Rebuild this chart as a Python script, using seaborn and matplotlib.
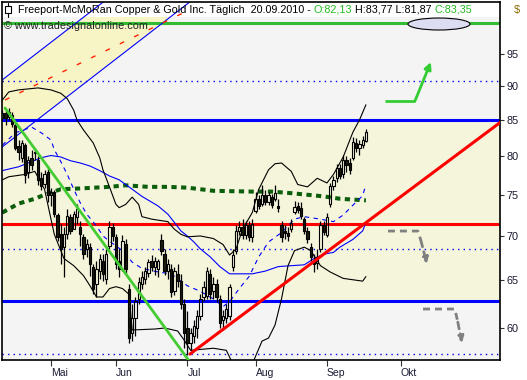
import matplotlib
matplotlib.use("Agg")
import numpy as np
import matplotlib.pyplot as plt
import matplotlib.ticker as mticker
from matplotlib.patches import Ellipse, Rectangle, Polygon
import seaborn as sns

# Tageskerzen 12.04.2010 - 20.09.2010 (Index 0 = erster Handelstag)
open_ = [85.28, 86.00, 85.43, 85.71, 84.30, 81.41, 79.79, 81.54, 77.96, 79.79,
         80.46, 79.53, 77.19, 76.42, 77.96, 75.03, 75.41, 72.46, 70.21, 68.71,
         70.21, 72.22, 70.80, 72.22, 71.03, 69.86, 68.48, 68.71, 66.47, 64.62,
         66.03, 67.13, 65.16, 68.82, 71.03, 69.86, 67.13, 66.25, 69.05, 64.09,
         59.47, 60.97, 63.03, 64.62, 65.16, 65.81, 67.13, 66.47, 66.25, 69.51,
         67.92, 66.03, 66.25, 63.87, 65.70, 64.94, 62.51, 59.96, 58.49, 59.17,
         59.96, 61.17, 63.24, 63.35, 65.70, 63.87, 64.62, 63.03, 60.77, 60.97,
         61.17, 66.47, 68.25, 70.56, 71.03, 70.10, 71.27, 69.86, 72.94, 74.41,
         73.80, 74.91, 74.04, 74.78, 74.41, 73.55, 71.27, 70.56, 70.33, 70.80,
         72.82, 73.55, 73.31, 71.98, 70.56, 68.71, 67.13, 66.91, 68.48, 71.27,
         70.10, 73.80, 76.17, 77.19, 78.48, 77.70, 79.53, 79.13, 79.79, 81.81,
         81.13, 81.54, 82.13]
close = [86.00, 85.28, 86.15, 84.43, 81.13, 80.59, 81.81, 77.57, 79.53, 78.87,
         80.59, 76.93, 76.17, 77.70, 74.91, 75.41, 72.58, 69.86, 68.48, 70.21,
         72.34, 70.56, 72.58, 73.19, 70.21, 67.92, 69.05, 66.80, 64.09, 66.25,
         67.36, 65.70, 67.92, 71.03, 69.98, 66.80, 66.25, 69.40, 66.25, 58.98,
         60.97, 62.82, 64.83, 65.37, 66.03, 67.02, 66.47, 67.13, 67.13, 68.25,
         66.03, 66.80, 63.77, 66.03, 64.94, 62.51, 59.47, 58.49, 59.47, 60.16,
         61.17, 63.03, 64.30, 66.03, 63.56, 64.62, 63.24, 60.46, 61.17, 61.99,
         64.30, 67.80, 70.56, 71.03, 70.10, 71.27, 69.86, 71.39, 74.41, 73.55,
         75.03, 74.04, 74.91, 73.67, 75.28, 73.31, 69.86, 70.33, 69.98, 71.51,
         73.43, 73.06, 72.34, 70.56, 69.63, 67.58, 66.80, 67.58, 71.27, 70.45,
         72.22, 76.17, 76.93, 78.48, 77.44, 79.53, 78.87, 78.22, 81.95, 81.13,
         81.68, 82.22, 83.35]
high = [86.44, 86.44, 86.73, 86.15, 84.72, 82.22, 82.22, 81.81, 80.06, 80.86,
        81.13, 80.06, 77.96, 78.22, 78.48, 75.91, 75.66, 72.70, 71.39, 71.03,
        73.19, 72.58, 72.94, 73.80, 71.74, 70.21, 69.63, 69.16, 66.80, 67.13,
        67.92, 67.92, 68.48, 71.74, 71.51, 70.21, 68.48, 70.10, 69.63, 64.62,
        62.51, 63.24, 65.37, 66.03, 66.47, 67.36, 67.80, 67.58, 67.36, 70.21,
        68.48, 67.36, 66.80, 66.47, 66.80, 65.70, 63.03, 61.69, 59.96, 60.77,
        61.79, 63.56, 64.94, 66.47, 66.25, 65.37, 65.16, 63.45, 61.79, 62.51,
        64.62, 68.48, 71.27, 71.74, 71.98, 71.74, 71.74, 71.98, 75.41, 75.03,
        76.29, 75.66, 75.41, 75.16, 76.29, 74.41, 71.74, 71.27, 71.03, 71.98,
        74.16, 74.04, 74.04, 72.22, 71.03, 69.16, 67.92, 68.48, 71.74, 71.74,
        72.70, 76.55, 77.44, 79.00, 79.00, 80.19, 80.06, 79.79, 82.63, 82.50,
        82.22, 82.77, 83.77]
low = [85.00, 84.30, 85.00, 84.02, 80.86, 79.53, 79.26, 76.55, 77.19, 78.22,
       79.53, 76.29, 75.66, 75.91, 74.04, 73.55, 72.22, 69.40, 66.80, 65.37,
       69.63, 70.21, 70.80, 71.39, 68.82, 67.36, 67.58, 65.48, 63.56, 63.24,
       65.16, 64.94, 64.62, 68.48, 69.40, 66.25, 65.37, 66.03, 65.70, 58.49,
       58.68, 59.17, 62.51, 64.09, 64.62, 65.37, 66.03, 65.59, 65.37, 67.80,
       65.59, 65.16, 63.24, 63.45, 64.30, 61.99, 58.01, 57.34, 57.82, 58.49,
       58.98, 60.77, 62.82, 63.03, 63.03, 63.03, 62.72, 59.96, 59.76, 60.46,
       60.77, 66.03, 67.92, 70.10, 69.63, 69.63, 69.40, 69.28, 72.70, 73.19,
       73.55, 73.67, 73.67, 73.31, 74.16, 72.82, 69.28, 69.63, 69.40, 70.45,
       72.58, 72.70, 71.98, 70.21, 69.16, 67.13, 65.92, 66.25, 68.14, 70.10,
       69.86, 73.43, 75.66, 76.67, 77.06, 77.19, 77.96, 77.70, 79.53, 80.59,
       80.19, 81.13, 81.87]

# Bollinger-Baender und Durchschnitte (Index -> Kurs)
bb_up_idx = [0, 2, 5, 11, 15, 18, 20, 22, 23, 25, 28, 30, 31, 33, 35, 36, 38, 40, 42, 43,
             46, 51, 53, 55, 57, 61, 65, 68, 70, 72, 74, 77, 79, 82, 84, 86, 89, 91, 94, 97,
             100, 102, 105, 108, 110, 112]
bb_up_val = [87.9, 89.1, 89.4, 89.7, 89.4, 88.9, 88.1, 86.4, 85.0, 83.6, 81.8, 79.8, 78.2, 76.0,
             73.8, 73.4, 73.8, 74.7, 73.8, 72.3, 72.0, 71.7, 70.8, 70.2, 69.9, 70.0, 69.7, 69.0,
             67.8, 68.5, 70.8, 72.8, 75.7, 78.2, 79.0, 79.1, 78.0, 76.3, 76.0, 77.1, 76.5, 77.6,
             79.9, 83.3, 85.0, 87.2]
bb_lo_idx = [0, 2, 7, 10, 13, 16, 19, 22, 25, 27, 29, 31, 33, 35, 37, 39, 40, 47, 50, 54,
             56, 58, 65, 69, 71, 77, 80, 82, 84, 86, 88, 90, 93, 95, 98, 101, 105, 111, 112]
bb_lo_val = [76.9, 77.3, 77.6, 78.0, 75.7, 70.2, 67.4, 66.6, 65.5, 64.4, 63.2, 63.2, 64.1, 64.3,
             64.1, 63.5, 59.8, 59.9, 60.0, 59.7, 58.8, 57.8, 58.0, 57.8, 56.5, 56.5, 58.7, 59.0,
             60.3, 63.0, 66.6, 68.3, 68.7, 68.3, 66.6, 65.9, 65.2, 64.9, 65.4]
bb_mid_idx = [0, 4, 9, 12, 15, 16, 18, 20, 22, 24, 26, 29, 31, 33, 37, 40, 43, 48, 52, 55,
              57, 61, 65, 68, 70, 73, 76, 79, 82, 86, 90, 93, 98, 102, 105, 108, 111, 112]
bb_mid_val = [81.5, 83.2, 84.0, 83.2, 82.2, 80.9, 79.3, 77.6, 75.7, 74.0, 72.6, 71.2, 70.0, 69.4,
              68.3, 67.0, 66.3, 65.9, 65.7, 64.9, 64.4, 63.8, 63.0, 62.2, 62.7, 64.1, 65.4, 67.6,
              69.3, 70.4, 72.0, 72.3, 72.0, 71.7, 72.5, 73.7, 74.9, 76.3]
ma50_idx = [0, 5, 12, 15, 18, 21, 24, 27, 30, 33, 36, 40, 43, 48, 51, 53, 55, 57, 59, 61,
            64, 67, 70, 73, 77, 81, 85, 89, 93, 96, 99, 102, 104, 108, 111, 112]
ma50_val = [78.1, 78.6, 79.8, 80.1, 79.9, 79.4, 79.1, 78.7, 78.1, 77.4, 76.9, 75.7, 74.8, 73.6,
            72.6, 71.6, 70.6, 70.0, 69.3, 68.5, 67.6, 66.5, 65.7, 65.7, 65.7, 66.0, 66.5, 66.6,
            66.7, 67.4, 67.9, 68.1, 68.7, 69.6, 70.6, 71.6]
ma200_idx = [0, 5, 10, 13, 18, 24, 33, 38, 45, 51, 57, 65, 77, 83, 89, 94, 99, 104, 112]
ma200_val = [72.8, 73.9, 74.5, 75.0, 75.7, 75.8, 76.0, 76.2, 76.0, 76.0, 75.9, 75.5, 75.4, 75.4,
             75.2, 75.0, 74.8, 74.5, 74.3]

# Horizontale Marken
zone_top, zone_bottom = 85.0, 62.77
red_level = 71.41
green_level = 100.0
dotted_levels = [90.74, 68.45, 57.44]

# Trendlinien / Kanal (Index, Kurs)
green_trend = ([0.83, 57.8], [86.73, 56.67])
red_trend = ([57.8, 153.3], [57.44, 84.64])
chan_upper = ([-1, 33.2], [90.54, 104.5])
chan_lower = ([-1, 59.3], [80.93, 104.27])
chan_mid = ([0.83, 55.65], [87.90, 101.69])

# Pfeile
green_arrow = ([117.9, 127.1], [87.75, 87.75])
green_tip = ((127.1, 87.75), (132.0, 93.67))
gray_arrow1 = ([118.8, 128.0, 128.9], [70.58, 70.58, 69.52])
gray_tip1 = ((128.9, 69.52), (130.8, 66.78))
gray_arrow2 = ([129.6, 139.4, 140.3], [61.94, 61.94, 60.60])
gray_tip2 = ((140.3, 60.60), (141.6, 58.51))

month_pos = [15, 35, 57, 78, 100, 122.8]
month_labels = ["Mai", "Jun", "Jul", "Aug", "Sep", "Okt"]
price_ticks = [60, 65, 70, 75, 80, 85, 90, 95]

sns.set_style("white")
plt.rcParams['font.family'] = ['Liberation Sans', 'DejaVu Sans']

fig = plt.figure(figsize=(5.27, 3.8), dpi=100)
ax = fig.add_axes([2 / 527, 20 / 380, 498 / 527, 358 / 380])
ax.set_yscale('log')
ax.set_xlim(-0.1, 153.3)
ax.set_ylim(56.87, 103.58)
ax.set_facecolor('#f4f4f4')

# Hintergrundzonen
ax.axhspan(zone_bottom, zone_top, color='#f5f5dc', lw=0, zorder=0)
ax.add_patch(Polygon([(chan_upper[0][0], chan_upper[1][0]), (chan_upper[0][1], chan_upper[1][1]),
                      (chan_lower[0][1], chan_lower[1][1]), (chan_lower[0][0], chan_lower[1][0])],
                     closed=True, facecolor='#f7f4c6', edgecolor='none', zorder=0.5))
ax.add_patch(Rectangle((0, 0.958), 1, 0.042, transform=ax.transAxes, facecolor='white',
                       edgecolor='none', zorder=0.8))

for lv in dotted_levels:
    ax.axhline(lv, color='#0000ee', lw=1.0, ls=(0, (1, 3)), zorder=1)
ax.axhline(zone_top, color='#0000ff', lw=2.2, zorder=1.2)
ax.axhline(zone_bottom, color='#0000ff', lw=2.2, zorder=1.2)
ax.axhline(red_level, color='#ff0000', lw=2.2, zorder=1.2)
ax.axhline(green_level, color='#33bb33', lw=2.2, zorder=1.2)

ax.plot(*chan_upper, color='#0000ff', lw=0.8, zorder=1.3)
ax.plot(*chan_lower, color='#0000ff', lw=0.8, zorder=1.3)
ax.plot(*chan_mid, color='#ff2200', lw=1.0, ls=(0, (3.5, 8)), zorder=1.3)

# Indikatoren
sns.lineplot(x=ma200_idx, y=ma200_val, ax=ax, color='#0b5e0b', lw=2.9,
             linestyle=(0, (1.3, 1.1)), zorder=2)
sns.lineplot(x=ma50_idx, y=ma50_val, ax=ax, color='#0000ff', lw=0.8, zorder=2)
sns.lineplot(x=bb_mid_idx, y=bb_mid_val, ax=ax, color='#0000ff', lw=0.8,
             linestyle=(0, (4, 4)), zorder=2)
sns.lineplot(x=bb_up_idx, y=bb_up_val, ax=ax, color='black', lw=0.8, zorder=2)
sns.lineplot(x=bb_lo_idx, y=bb_lo_val, ax=ax, color='black', lw=0.8, zorder=2)

# Kerzen
o = np.array(open_)
c = np.array(close)
h = np.array(high)
l = np.array(low)
x = np.arange(len(c))
top = np.maximum(o, c)
bot = np.minimum(o, c)
ax.vlines(x, top, h, color='black', lw=0.9, zorder=3)
ax.vlines(x, l, bot, color='black', lw=0.9, zorder=3)
up = c >= o
ax.bar(x[up], top[up] - bot[up], bottom=bot[up], width=0.72, facecolor='none',
       edgecolor='black', lw=0.8, zorder=3.1)
ax.bar(x[~up], top[~up] - bot[~up], bottom=bot[~up], width=0.72, facecolor='#1c1c0c',
       edgecolor='black', lw=0.8, zorder=3.1)

# Trendlinien
ax.plot(*green_trend, color='#44cc33', lw=2.0, zorder=4)
ax.plot(*red_trend, color='#ff0000', lw=2.2, zorder=4)

# Pfeile
ax.plot(*green_arrow, color='#33cc33', lw=2.0, zorder=4, solid_capstyle='butt')
ax.annotate('', xy=green_tip[1], xytext=green_tip[0],
            arrowprops=dict(arrowstyle='-|>', color='#33cc33', lw=2.0, mutation_scale=10,
                            shrinkA=0, shrinkB=0), zorder=4)
for seg, tip in [(gray_arrow1, gray_tip1), (gray_arrow2, gray_tip2)]:
    ax.plot(*seg, color='#808080', lw=2.0, ls=(0, (2.5, 1.8)), zorder=4)
    ax.annotate('', xy=tip[1], xytext=tip[0],
                arrowprops=dict(arrowstyle='-|>', color='#808080', lw=2.0, ls=(0, (2.5, 1.8)),
                                mutation_scale=9, shrinkA=0, shrinkB=0), zorder=4)

ax.add_patch(Ellipse((0.8775, 0.9385), 0.1245, 0.0335, transform=ax.transAxes,
                     facecolor='#dcdcf2', edgecolor='black', lw=0.8, zorder=5))

# Achsen
for s in ax.spines.values():
    s.set_color('black')
    s.set_linewidth(1.2)
ax.yaxis.tick_right()
ax.yaxis.set_major_locator(mticker.FixedLocator(price_ticks))
ax.yaxis.set_major_formatter(mticker.FixedFormatter([str(t) for t in price_ticks]))
ax.yaxis.set_minor_locator(mticker.NullLocator())
ax.tick_params(axis='y', which='both', right=True, left=False, direction='out', length=3,
               width=0.8, color='#333333', labelsize=7.8, labelcolor='#1a1a33', pad=1.5)
ax.set_xticks(month_pos)
ax.set_xticklabels(month_labels, ha='left')
ax.tick_params(axis='x', bottom=True, direction='out', length=4, width=0.8, color='#333333',
               labelsize=7.5, labelcolor='#1a1a33', pad=2)
ax.set_xlabel('')
ax.set_ylabel('')
ax.grid(False)

# Kopfzeile
ax.add_patch(Rectangle((0.006, 0.969), 0.012, 0.0196, transform=ax.transAxes,
                       facecolor='white', edgecolor='black', lw=0.8, zorder=6))
ax.plot([0.012, 0.012], [0.958, 0.997], transform=ax.transAxes, color='black', lw=0.8, zorder=5.9)
fs = 7.75
t1 = ax.text(0.032, 0.978, 'Freeport-McMoRan Copper & Gold Inc. Täglich  20.09.2010 - ',
             transform=ax.transAxes, ha='left', va='center', fontsize=fs, color='black', zorder=7)
t2 = ax.annotate('O:82,13', xy=(1, 0), xycoords=t1, ha='left', va='bottom', fontsize=fs,
                 color='#22bb22', zorder=7)
t3 = ax.annotate(' H:83,77 L:81,87 ', xy=(1, 0), xycoords=t2, ha='left', va='bottom',
                 fontsize=fs, color='black', zorder=7)
ax.annotate('C:83,35', xy=(1, 0), xycoords=t3, ha='left', va='bottom', fontsize=fs,
            color='#22bb22', zorder=7)
ax.text(0.004, 0.933, '© www.tradesignalonline.com', transform=ax.transAxes, ha='left',
        va='center', fontsize=7.8, color='#222222', zorder=7)
fig.text(517 / 527, 1 - 10 / 380, '$', ha='center', va='center', fontsize=8, color='#8a6a00')

fig.savefig('out.png', dpi=100)
